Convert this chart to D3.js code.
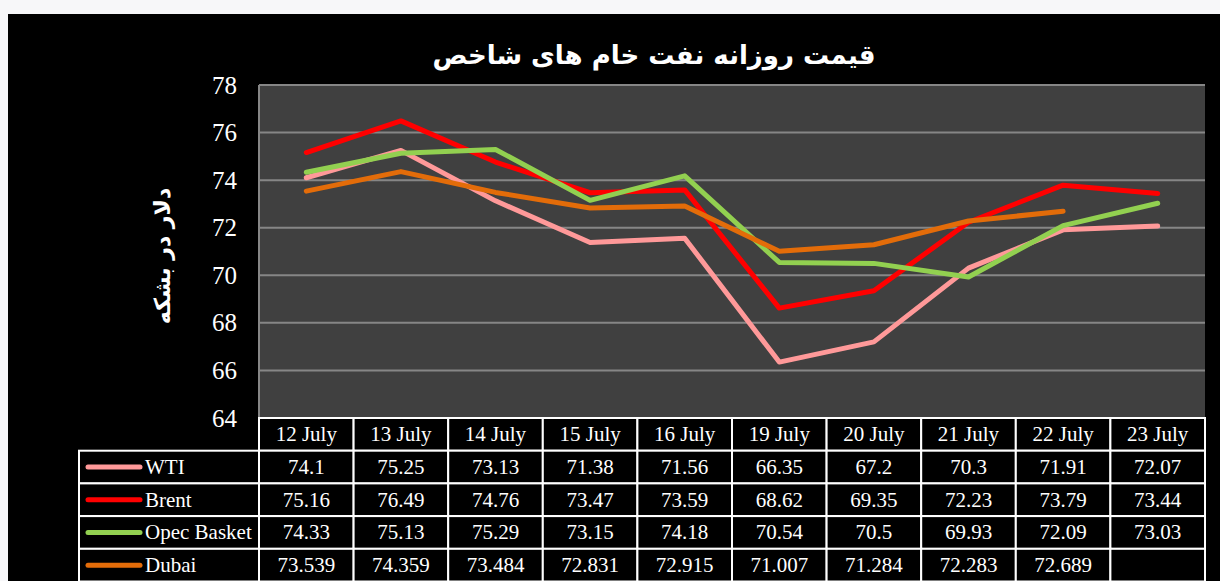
<!DOCTYPE html>
<html>
<head>
<meta charset="utf-8">
<script src="https://cdn.jsdelivr.net/npm/d3@7"></script>
<style>
  body { margin: 0; background: #f7f7f9; }
  svg { display: block; }
</style>
</head>
<body>
<svg id="chart"></svg>
<script>
// categories and series
const days = ["12 July", "13 July", "14 July", "15 July", "16 July", "19 July", "20 July", "21 July", "22 July", "23 July"];
const wti = [74.1, 75.25, 73.13, 71.38, 71.56, 66.35, 67.2, 70.3, 71.91, 72.07];
const brent = [75.16, 76.49, 74.76, 73.47, 73.59, 68.62, 69.35, 72.23, 73.79, 73.44];
const opec = [74.33, 75.13, 75.29, 73.15, 74.18, 70.54, 70.5, 69.93, 72.09, 73.03];
const dubai = ["73.539", "74.359", "73.484", "72.831", "72.915", "71.007", "71.284", "72.283", "72.689", ""];
const yTicks = [64, 66, 68, 70, 72, 74, 76, 78];

const series = [
  { name: "WTI", color: "#ff9999", values: wti.map(String) },
  { name: "Brent", color: "#ff0000", values: brent.map(String) },
  { name: "Opec Basket", color: "#92d050", values: opec.map(String) },
  { name: "Dubai", color: "#e36c09", values: dubai }
];

const W = 1220, H = 581;
const plot = { left: 259, right: 1205, top: 85, bottom: 418 };
const rowH = 32.7;
const legendLeft = 79;

const svg = d3.select("#chart").attr("width", W).attr("height", H);

// black panel
svg.append("rect").attr("x", 8).attr("y", 14).attr("width", W - 8).attr("height", H - 14).attr("fill", "#000");

// plot area
svg.append("rect")
  .attr("x", plot.left).attr("y", plot.top)
  .attr("width", plot.right - plot.left).attr("height", plot.bottom - plot.top)
  .attr("fill", "#404040");

const x = d3.scaleBand().domain(days).range([plot.left, plot.right]);
const y = d3.scaleLinear().domain([64, 78]).range([plot.bottom, plot.top]);

// grid lines
svg.append("g")
  .selectAll("line")
  .data(yTicks)
  .join("line")
  .attr("x1", plot.left).attr("x2", plot.right)
  .attr("y1", d => y(d)).attr("y2", d => y(d))
  .attr("stroke", "#868686").attr("stroke-width", 2);

svg.append("line")
  .attr("x1", plot.left).attr("x2", plot.left)
  .attr("y1", plot.top).attr("y2", plot.bottom)
  .attr("stroke", "#868686").attr("stroke-width", 2);

// y axis
const yAxis = svg.append("g")
  .attr("transform", "translate(" + plot.left + ",0)")
  .call(d3.axisLeft(y).tickValues(yTicks).tickSize(0).tickPadding(22));
yAxis.select(".domain").remove();
yAxis.selectAll("text")
  .attr("fill", "#fff")
  .style("font-family", "'Liberation Serif', serif")
  .style("font-size", "25px");

// lines
const line = d3.line()
  .x(d => x(d.day) + x.bandwidth() / 2)
  .y(d => y(+d.v));

series.forEach(s => {
  svg.append("path")
    .datum(days.map((day, i) => ({ day, v: s.values[i] })).filter(d => d.v !== ""))
    .attr("d", line)
    .attr("fill", "none")
    .attr("stroke", s.color)
    .attr("stroke-width", 5)
    .attr("stroke-linecap", "round")
    .attr("stroke-linejoin", "round");
});

// title
svg.append("text")
  .attr("x", 654).attr("y", 64)
  .attr("text-anchor", "middle")
  .attr("direction", "rtl")
  .attr("fill", "#fff")
  .style("font-family", "'DejaVu Sans', sans-serif")
  .style("font-weight", "bold")
  .style("font-size", "26px")
  .text("قیمت روزانه نفت خام های شاخص");

// y axis title
svg.append("text")
  .attr("transform", "translate(170,256) rotate(-90)")
  .attr("text-anchor", "middle")
  .attr("fill", "#fff")
  .style("font-family", "'DejaVu Sans', sans-serif")
  .style("font-weight", "bold")
  .style("font-size", "22px")
  .text("دلار در بشکه");

// data table
const table = svg.append("g");
const cellStroke = "#fff";
const tableFont = "'Liberation Serif', serif";

// header row
days.forEach(d => {
  table.append("rect")
    .attr("x", x(d)).attr("y", plot.bottom)
    .attr("width", x.bandwidth()).attr("height", rowH)
    .attr("fill", "#000").attr("stroke", cellStroke).attr("stroke-width", 2);
  table.append("text")
    .attr("x", x(d) + x.bandwidth() / 2).attr("y", plot.bottom + rowH / 2 + 7)
    .attr("text-anchor", "middle").attr("fill", "#fff")
    .style("font-family", tableFont).style("font-size", "21px")
    .text(d);
});

series.forEach((s, r) => {
  const top = plot.bottom + rowH * (r + 1);
  table.append("rect")
    .attr("x", legendLeft).attr("y", top)
    .attr("width", plot.left - legendLeft).attr("height", rowH)
    .attr("fill", "#000").attr("stroke", cellStroke).attr("stroke-width", 2);
  table.append("line")
    .attr("x1", legendLeft + 9).attr("x2", legendLeft + 61)
    .attr("y1", top + rowH / 2).attr("y2", top + rowH / 2)
    .attr("stroke", s.color).attr("stroke-width", 5).attr("stroke-linecap", "round");
  table.append("text")
    .attr("x", legendLeft + 66).attr("y", top + rowH / 2 + 7)
    .attr("fill", "#fff")
    .style("font-family", tableFont).style("font-size", "21px")
    .text(s.name);
  days.forEach((d, i) => {
    table.append("rect")
      .attr("x", x(d)).attr("y", top)
      .attr("width", x.bandwidth()).attr("height", rowH)
      .attr("fill", "#000").attr("stroke", cellStroke).attr("stroke-width", 2);
    table.append("text")
      .attr("x", x(d) + x.bandwidth() / 2).attr("y", top + rowH / 2 + 7)
      .attr("text-anchor", "middle").attr("fill", "#fff")
      .style("font-family", tableFont).style("font-size", "21px")
      .text(s.values[i]);
  });
});
</script>
</body>
</html>
